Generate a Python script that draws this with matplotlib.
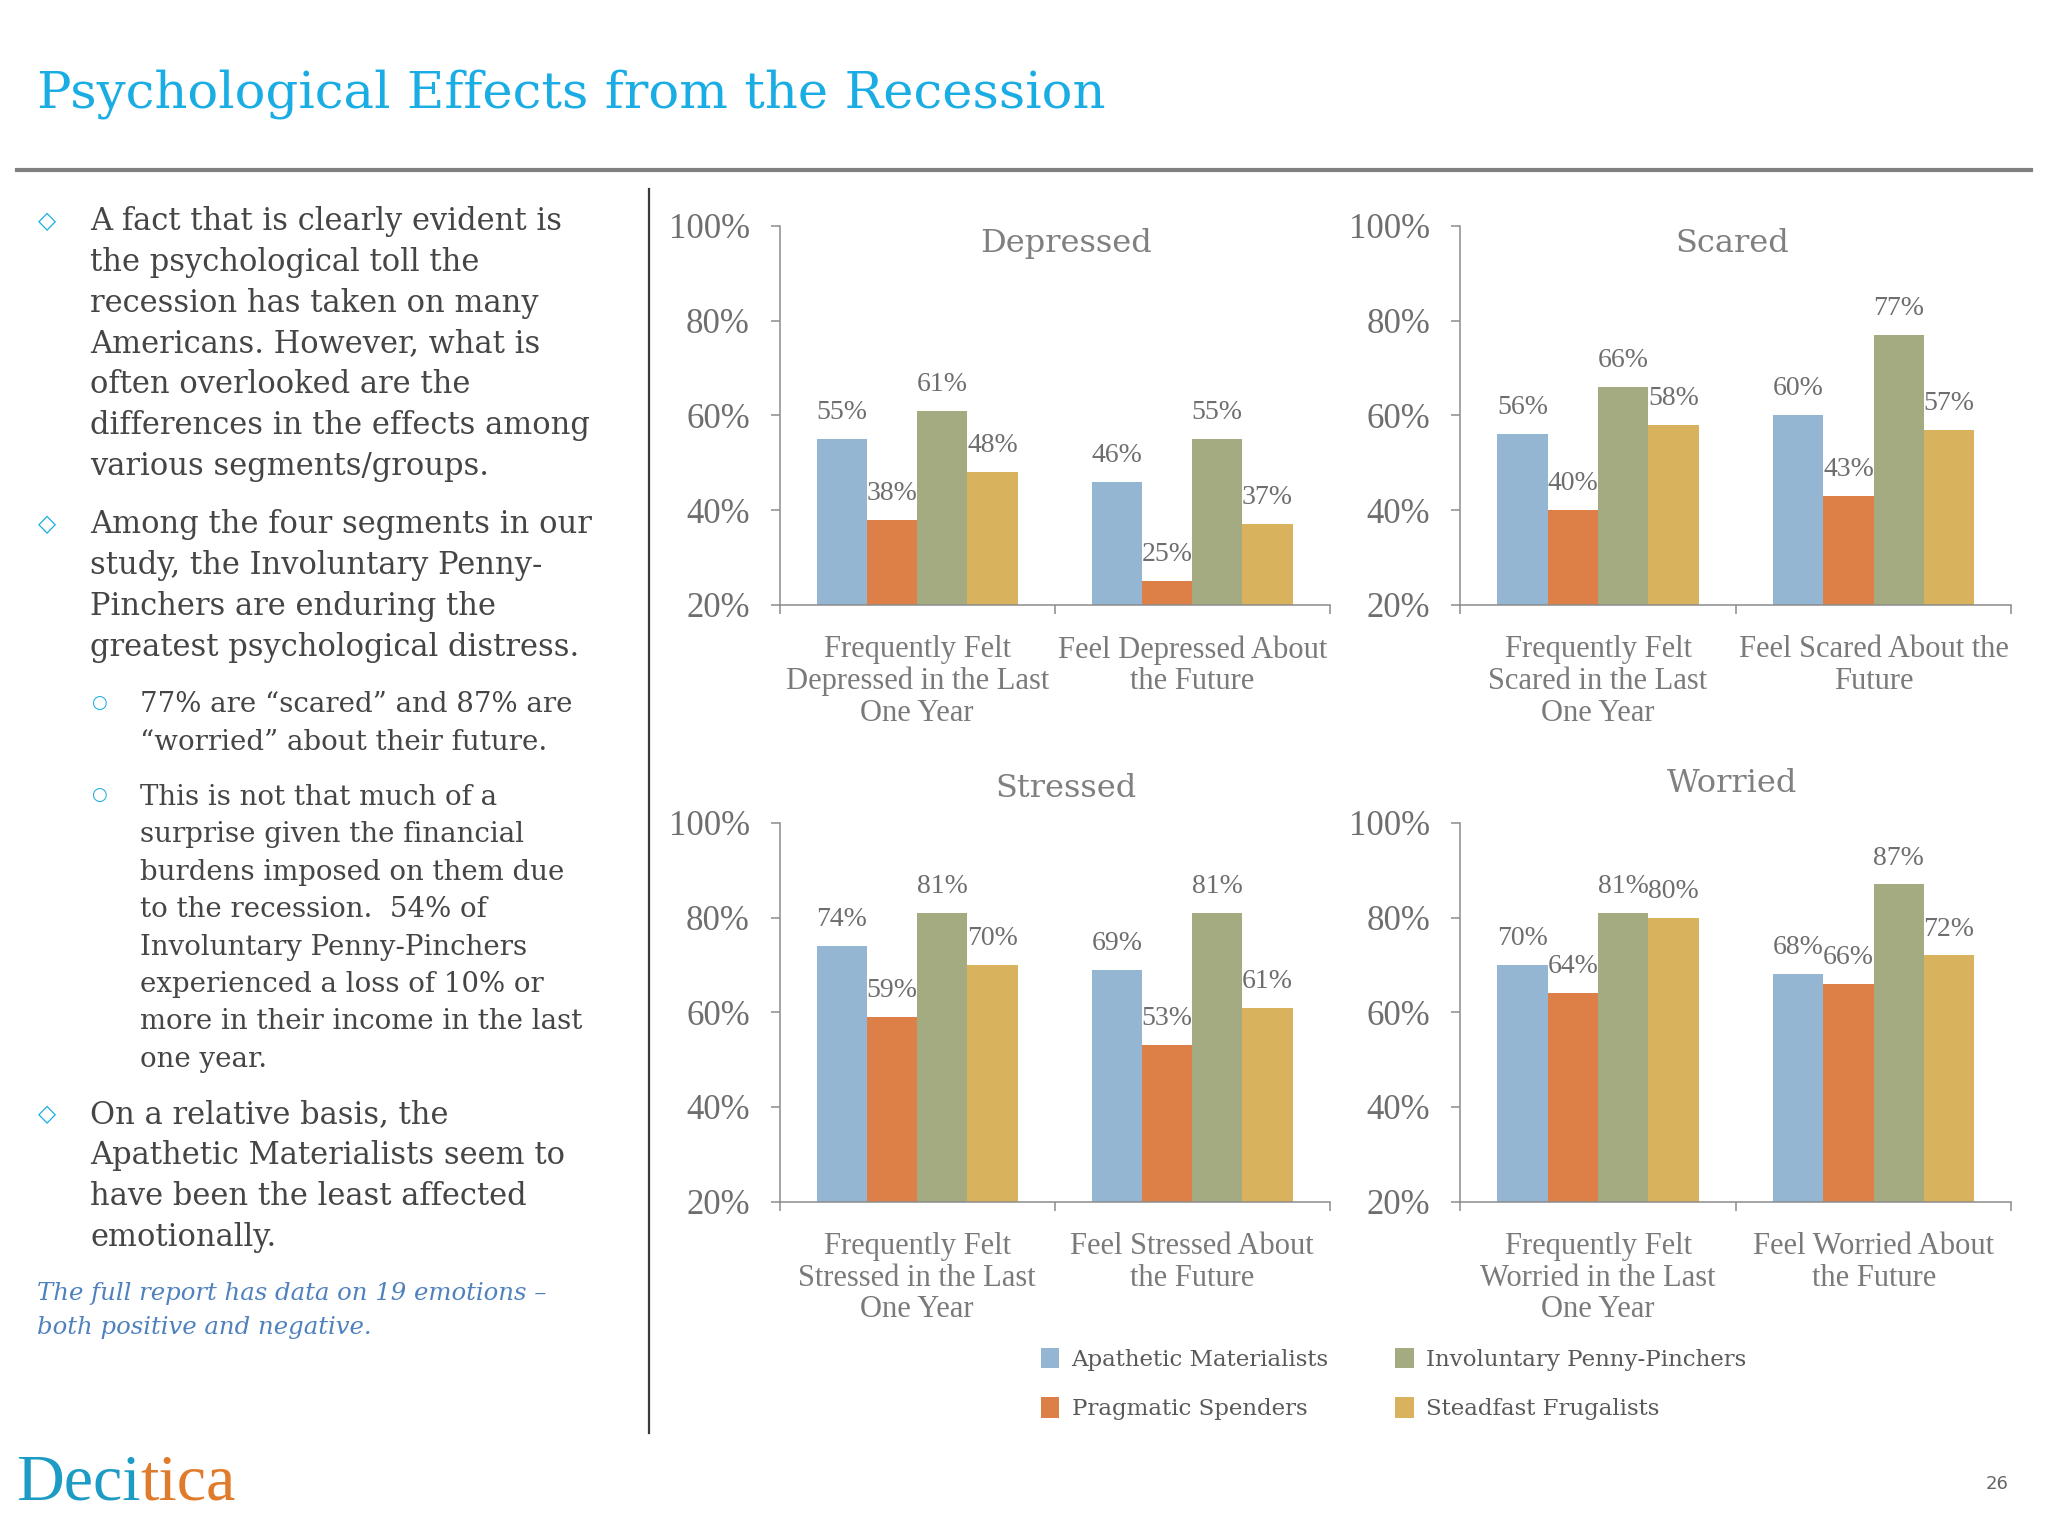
import matplotlib
matplotlib.use("Agg")
import matplotlib.pyplot as plt
from matplotlib.lines import Line2D
import numpy as np

# ---------------- data ----------------
segments = ["Apathetic Materialists", "Pragmatic Spenders",
            "Involuntary Penny-Pinchers", "Steadfast Frugalists"]
seg_colors = ["#94B6D2", "#DD8047", "#A5AB81", "#D8B25C"]

emotions = ["Depressed", "Scared", "Stressed", "Worried"]

depressed_cats = ["Frequently Felt\nDepressed in the Last\nOne Year", "Feel Depressed About\nthe Future"]
scared_cats = ["Frequently Felt\nScared in the Last\nOne Year", "Feel Scared About the\nFuture"]
stressed_cats = ["Frequently Felt\nStressed in the Last\nOne Year", "Feel Stressed About\nthe Future"]
worried_cats = ["Frequently Felt\nWorried in the Last\nOne Year", "Feel Worried About\nthe Future"]

# rows = segments (Apathetic, Pragmatic, Involuntary, Steadfast); cols = categories
depressed_vals = [[55, 46], [38, 25], [61, 55], [48, 37]]
scared_vals = [[56, 60], [40, 43], [66, 77], [58, 57]]
stressed_vals = [[74, 69], [59, 53], [81, 81], [70, 61]]
worried_vals = [[70, 68], [64, 66], [81, 87], [80, 72]]

y_ticks = [20, 40, 60, 80, 100]
y_tick_labels = ["20%", "40%", "60%", "80%", "100%"]

title_text = "Psychological Effects from the Recession"

para1 = ["A fact that is clearly evident is", "the psychological toll the",
         "recession has taken on many", "Americans. However, what is",
         "often overlooked are the", "differences in the effects among",
         "various segments/groups."]
para2 = ["Among the four segments in our", "study, the Involuntary Penny-",
         "Pinchers are enduring the", "greatest psychological distress."]
sub1 = ["77% are \u201cscared\u201d and 87% are", "\u201cworried\u201d about their future."]
sub2 = ["This is not that much of a", "surprise given the financial",
        "burdens imposed on them due", "to the recession.  54% of",
        "Involuntary Penny-Pinchers", "experienced a loss of 10% or",
        "more in their income in the last", "one year."]
para3 = ["On a relative basis, the", "Apathetic Materialists seem to",
         "have been the least affected", "emotionally."]
note = ["The full report has data on 19 emotions \u2013", "both positive and negative."]

# ---------------- figure ----------------
W, H = 1568.0, 1176.0  # layout reference units
fig = plt.figure(figsize=(20.48, 15.36), dpi=100)
fig.patch.set_facecolor("white")

def fx(x):
    return x / W

def fy(y):
    return 1 - y / H

CYAN = "#1AADE4"
BODY = "#454545"
GRAY = "#7a7a7a"
AXIS = "#8c8c8c"

# title
fig.text(fx(28), fy(82), title_text, fontsize=37, family="DejaVu Serif",
         color=CYAN, ha="left", va="baseline")

# rule + divider
fig.add_artist(Line2D([fx(13), fx(1555)], [fy(130), fy(130)], color="#808080", lw=3.0))
fig.add_artist(Line2D([fx(497), fx(497)], [fy(145), fy(1097)], color="#3a3a3a", lw=1.6))

# left text
def paragraph(lines, x, y0, step, size, bullet=None, bx=None, sub=False, **kw):
    for i, ln in enumerate(lines):
        fig.text(fx(x), fy(y0 + i * step), ln, fontsize=size, family="DejaVu Serif",
                 color=BODY, ha="left", va="baseline", **kw)
    if bullet:
        fig.text(fx(bx), fy(y0 - 7), bullet, fontsize=(13 if sub else 17),
                 family="DejaVu Sans", color=CYAN, ha="center", va="center")

paragraph(para1, 69, 176, 31.3, 22, "\u25C7", 36)
paragraph(para2, 69, 408, 31.3, 22, "\u25C7", 36)
paragraph(sub1, 107, 545, 29.0, 19.9, "\u25CB", 76, sub=True)
paragraph(sub2, 107, 616, 28.7, 19.9, "\u25CB", 76, sub=True)
paragraph(para3, 69, 860, 31.3, 22, "\u25C7", 36)
for i, ln in enumerate(note):
    fig.text(fx(28), fy(995 + i * 26), ln, fontsize=17.6, family="DejaVu Serif",
             style="italic", color="#4F81BD", ha="left", va="baseline")

# logo and page number
t1 = fig.text(fx(12), fy(1148), "Deci", fontsize=47.5, family="Liberation Serif",
              color="#1C9BC4", ha="left", va="baseline")
fig.canvas.draw()
bb = t1.get_window_extent()
fig.text(bb.x1 / fig.bbox.width, fy(1148), "tica", fontsize=47.5, family="Liberation Serif",
         color="#E07B2C", ha="left", va="baseline")
fig.text(fx(1529), fy(1136), "26", fontsize=13, family="DejaVu Sans", color="#666666",
         ha="center", va="center")

# ---------------- charts ----------------
panels = [
    ("Depressed", depressed_cats, depressed_vals, (597, 1018, 173, 463), (0.52, 0.955)),
    ("Scared", scared_cats, scared_vals, (1118, 1540, 173, 463), (0.493, 0.955)),
    ("Stressed", stressed_cats, stressed_vals, (597, 1018, 630, 920), (0.52, 1.09)),
    ("Worried", worried_cats, worried_vals, (1118, 1540, 630, 920), (0.493, 1.103)),
]

group_w = 0.73
bar_w = group_w / len(segments)
handles = None
for name, cats, vals, (x0, x1, yt, yb), (tx, ty) in panels:
    ax = fig.add_axes([fx(x0), fy(yb), fx(x1) - fx(x0), fy(yt) - fy(yb)])
    x = np.arange(len(cats))
    conts = []
    for s, (seg, col) in enumerate(zip(segments, seg_colors)):
        off = (s - (len(segments) - 1) / 2) * bar_w
        c = ax.bar(x + off, vals[s], width=bar_w, bottom=0, color=col, label=seg,
                   linewidth=0, zorder=2)
        conts.append(c)
        for rect, v in zip(c, vals[s]):
            ax.annotate(f"{v}%", xy=(rect.get_x() + rect.get_width() / 2, v),
                        xytext=(0, 19), textcoords="offset points",
                        ha="center", va="center", fontsize=20,
                        family="Liberation Serif", color="#6e6e6e", zorder=3)
    if handles is None:
        handles = conts
    ax.set_ylim(20, 100)
    ax.set_xlim(-0.5, len(cats) - 0.5)
    ax.set_yticks(y_ticks)
    ax.set_yticklabels(y_tick_labels)
    ax.set_xticks(np.arange(len(cats) + 1) - 0.5)
    ax.set_xticklabels([])
    ax.set_xticks(x, minor=True)
    ax.set_xticklabels(cats, minor=True, fontsize=22, family="Liberation Serif",
                       color=GRAY, linespacing=1.12)
    ax.tick_params(axis="x", which="minor", length=0, pad=22)
    ax.tick_params(axis="x", which="major", length=6.5, width=1.1, color=AXIS, direction="out")
    ax.tick_params(axis="y", length=6.5, width=1.1, color=AXIS, pad=15,
                   labelsize=25, labelcolor="#6e6e6e")
    for lbl in ax.get_yticklabels():
        lbl.set_family("Liberation Serif")
    for sp in ("top", "right"):
        ax.spines[sp].set_visible(False)
    for sp in ("left", "bottom"):
        ax.spines[sp].set_color(AXIS)
        ax.spines[sp].set_linewidth(1.1)
    ax.patch.set_alpha(0)
    ax.text(tx, ty, name, transform=ax.transAxes, ha="center", va="center",
            fontsize=23, family="DejaVu Serif", color="#808080")

leg = fig.legend(handles=handles, labels=segments, ncol=2, loc="upper left",
                 bbox_to_anchor=(fx(788), fy(1023)), frameon=False, borderpad=0,
                 prop={"family": "DejaVu Serif", "size": 16.5},
                 handlelength=0.8, handleheight=1.0, handletextpad=0.55,
                 columnspacing=2.9, labelspacing=1.15)
for t in leg.get_texts():
    t.set_color("#595959")

fig.savefig("out.png", dpi=100, facecolor="white")
